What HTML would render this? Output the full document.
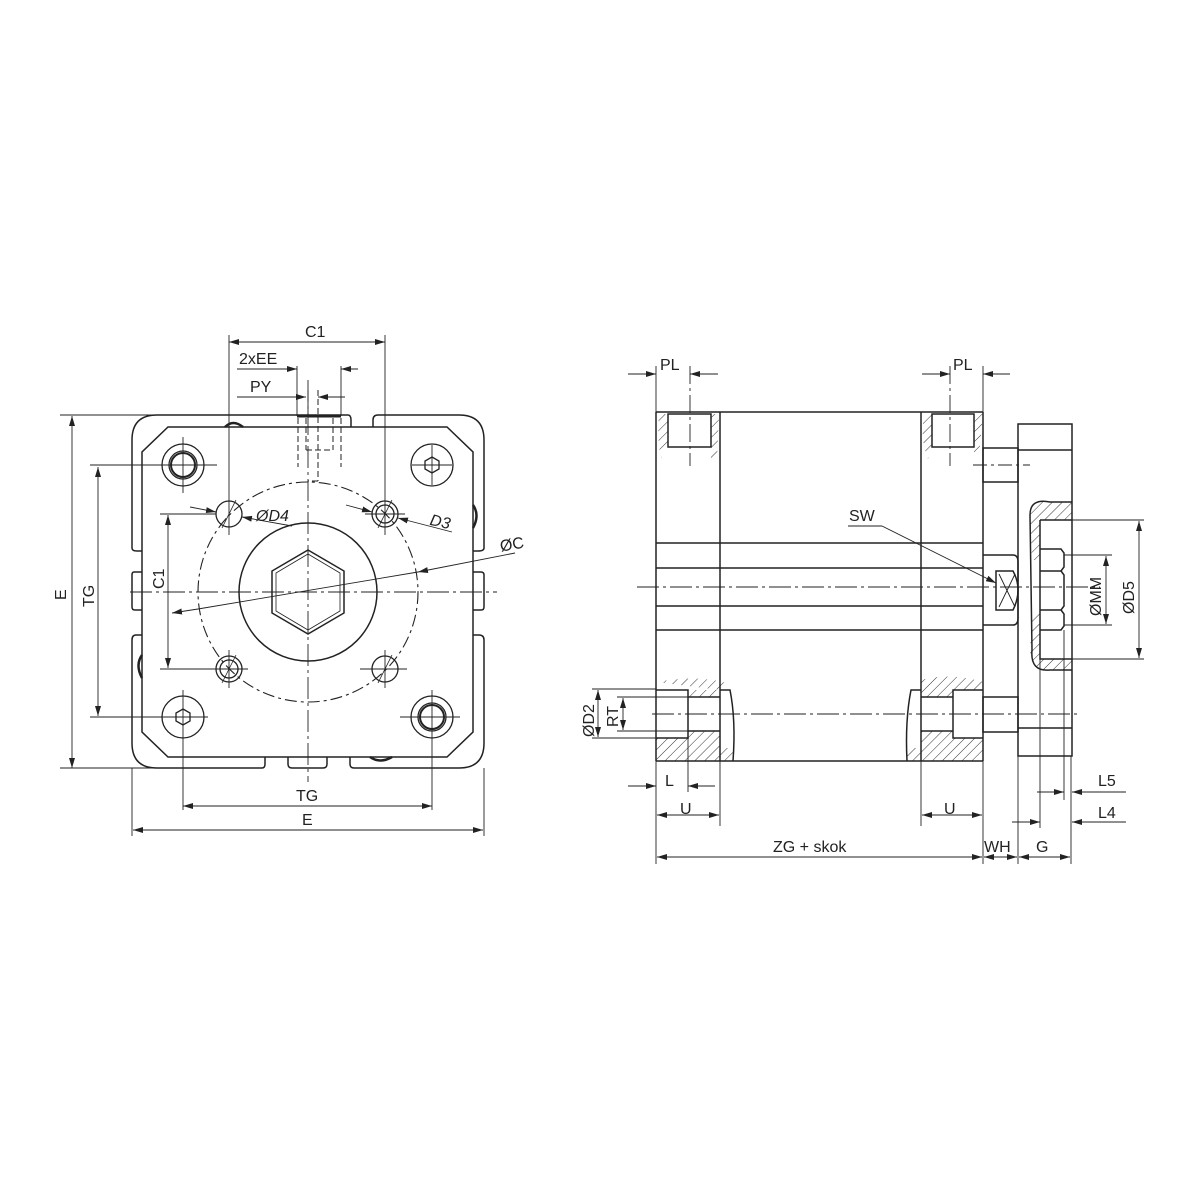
<!DOCTYPE html>
<html><head><meta charset="utf-8"><style>html,body{margin:0;padding:0;background:#fff}svg{display:block}</style></head>
<body>
<svg width="1200" height="1200" viewBox="0 0 1200 1200" xmlns="http://www.w3.org/2000/svg" font-family="Liberation Sans, sans-serif" font-size="16" fill="none" stroke="#222" stroke-width="1.3">
<defs>
<pattern id="h" width="7" height="7" patternUnits="userSpaceOnUse" patternTransform="rotate(45)"><line x1="0" y1="0" x2="0" y2="7" stroke="#333" stroke-width="1"/></pattern>
<marker id="a" viewBox="0 0 10 6" refX="10" refY="3" markerWidth="10" markerHeight="6" orient="auto-start-reverse" markerUnits="userSpaceOnUse"><path d="M0,0 L10,3 L0,6 z" fill="#222" stroke="none"/></marker>
</defs>

<!-- ========== LEFT VIEW ========== -->
<g stroke-width="1.5">
<path d="M132,548 L132,440 Q132,415 157,415 L348,415 Q351,415 351,420 L351,427"/>
<path d="M373,427 L373,420 Q373,415 378,415 L459,415 Q484,415 484,440 L484,548 Q484,551 478,551 L473,551"/>
<path d="M142,551 L137,551 Q132,551 132,548"/>
<path d="M142,572 L134,572 Q132,572 132,575 L132,607 Q132,610 135,610 L142,610"/>
<path d="M473,572 L481,572 Q484,572 484,575 L484,607 Q484,610 481,610 L473,610"/>
<path d="M142,635 L136,635 Q132,635 132,640 L132,743 Q132,768 157,768 L262,768 Q265,768 265,764 L265,757"/>
<path d="M288,757 L288,764 Q288,768 292,768 L323,768 Q327,768 327,764 L327,757"/>
<path d="M350,757 L350,764 Q350,768 354,768 L459,768 Q484,768 484,743 L484,640 Q484,635 479,635 L473,635"/>
<path d="M168,427 L447,427 L473,452 L473,732 L447,757 L168,757 L142,732 L142,452 Z"/>
</g>
<path d="M225,427 Q233,419 243,427" stroke-width="2.5"/>
<path d="M473,505 Q480,515 473,528" stroke-width="2.5"/>
<path d="M142,655 Q135,665 142,678" stroke-width="2.5"/>
<path d="M370,757 Q380,764 392,757" stroke-width="2.5"/>
<line x1="297" y1="416" x2="341" y2="416" stroke-width="3"/>
<g stroke-dasharray="6,3" stroke-width="1">
<line x1="298" y1="418" x2="298" y2="467"/><line x1="341" y1="418" x2="341" y2="467"/>
<line x1="306" y1="418" x2="306" y2="450"/><line x1="333" y1="418" x2="333" y2="450"/>
<line x1="306" y1="450" x2="333" y2="450"/>
<line x1="318" y1="390" x2="318" y2="481"/><line x1="318" y1="481" x2="308" y2="481"/>
</g>
<circle cx="308" cy="592" r="110" stroke-dasharray="12,4,3,4" stroke-width="1.1"/>
<circle cx="308" cy="592" r="69" stroke-width="1.5"/>
<polygon points="308,550 344,571 344,613 308,634 272,613 272,571" stroke-width="1.5"/>
<polygon points="308,554 340,573 340,611 308,630 276,611 276,573" stroke-width="0.8"/>
<g stroke-width="1.3">
<circle cx="183" cy="465" r="21"/><circle cx="183" cy="465" r="14"/><circle cx="183" cy="465" r="12" stroke-width="2"/>
<circle cx="432" cy="465" r="21"/><polygon points="432,457 439,461 439,469 432,473 425,469 425,461"/>
<circle cx="183" cy="717" r="21"/><polygon points="183,709 190,713 190,721 183,725 176,721 176,713"/>
<circle cx="432" cy="717" r="21"/><circle cx="432" cy="717" r="14"/><circle cx="432" cy="717" r="12" stroke-width="2"/>
<circle cx="229" cy="514" r="13"/><line x1="222" y1="528" x2="236" y2="500" stroke-width="0.8"/>
<circle cx="385" cy="514" r="13"/><circle cx="385" cy="514" r="9"/><line x1="378" y1="528" x2="392" y2="500" stroke-width="0.8"/>
<circle cx="229" cy="669" r="13"/><circle cx="229" cy="669" r="9"/><line x1="222" y1="683" x2="236" y2="655" stroke-width="0.8"/>
<circle cx="385" cy="669" r="13"/><line x1="378" y1="683" x2="392" y2="655" stroke-width="0.8"/>
</g>
<g stroke-width="0.9">
<line x1="130" y1="592" x2="497" y2="592" stroke-dasharray="22,4,3,4"/>
<line x1="308" y1="380" x2="308" y2="782" stroke-dasharray="22,4,3,4"/>
<line x1="163" y1="465" x2="217" y2="465"/><line x1="412" y1="465" x2="452" y2="465"/>
<line x1="183" y1="437" x2="183" y2="493"/><line x1="432" y1="445" x2="432" y2="485"/>
<line x1="160" y1="717" x2="208" y2="717"/><line x1="400" y1="717" x2="460" y2="717"/>
<line x1="183" y1="690" x2="183" y2="810"/><line x1="432" y1="690" x2="432" y2="810"/>
<line x1="229" y1="335" x2="229" y2="535"/><line x1="385" y1="335" x2="385" y2="535"/>
<line x1="229" y1="650" x2="229" y2="688"/><line x1="385" y1="650" x2="385" y2="688"/>
<line x1="360" y1="669" x2="407" y2="669"/><line x1="205" y1="669" x2="248" y2="669"/>
<line x1="365" y1="514" x2="405" y2="514"/>
</g>
<g stroke-width="0.9">
<line x1="229" y1="342" x2="385" y2="342" marker-start="url(#a)" marker-end="url(#a)"/>
<line x1="237" y1="369" x2="297" y2="369" marker-end="url(#a)"/><line x1="358" y1="369" x2="341" y2="369" marker-end="url(#a)"/>
<line x1="297" y1="366" x2="297" y2="416"/><line x1="341" y1="366" x2="341" y2="416"/>
<line x1="237" y1="397" x2="306" y2="397" marker-end="url(#a)"/><line x1="345" y1="397" x2="318" y2="397" marker-end="url(#a)"/>
<line x1="308" y1="390" x2="308" y2="416"/>
<line x1="60" y1="415" x2="230" y2="415"/><line x1="60" y1="768" x2="180" y2="768"/>
<line x1="72" y1="416" x2="72" y2="768" marker-start="url(#a)" marker-end="url(#a)"/>
<line x1="90" y1="465" x2="165" y2="465"/><line x1="90" y1="717" x2="160" y2="717"/>
<line x1="98" y1="467" x2="98" y2="716" marker-start="url(#a)" marker-end="url(#a)"/>
<line x1="160" y1="514" x2="216" y2="514"/><line x1="160" y1="669" x2="216" y2="669"/>
<line x1="168" y1="515" x2="168" y2="668" marker-start="url(#a)" marker-end="url(#a)"/>
<line x1="183" y1="806" x2="432" y2="806" marker-start="url(#a)" marker-end="url(#a)"/>
<line x1="132" y1="768" x2="132" y2="836"/><line x1="484" y1="768" x2="484" y2="836"/>
<line x1="133" y1="830" x2="483" y2="830" marker-start="url(#a)" marker-end="url(#a)"/>
<line x1="172" y1="613" x2="198" y2="609" marker-start="url(#a)" /><line x1="198" y1="609" x2="418" y2="572"/>
<line x1="418" y1="572" x2="515" y2="553" marker-start="url(#a)"/>
<line x1="190" y1="507" x2="216" y2="512" marker-end="url(#a)"/>
<line x1="242" y1="517" x2="292" y2="526" marker-start="url(#a)"/>
<line x1="346" y1="505" x2="372" y2="512" marker-end="url(#a)"/>
<line x1="398" y1="518" x2="452" y2="532" marker-start="url(#a)"/>
</g>
<g fill="#222" stroke="none">
<text x="305" y="337">C1</text>
<text x="239" y="364">2xEE</text>
<text x="250" y="392">PY</text>
<text x="256" y="521" font-style="italic">ØD4</text>
<text x="430" y="527" font-style="italic" transform="rotate(12 440 522)">D3</text>
<text x="500" y="550" transform="rotate(-10 510 545)">ØC</text>
<text x="296" y="801">TG</text>
<text x="302" y="825">E</text>
<text transform="translate(66,600) rotate(-90)">E</text>
<text transform="translate(94,607) rotate(-90)">TG</text>
<text transform="translate(164,589) rotate(-90)">C1</text>
</g>

<!-- ========== RIGHT VIEW ========== -->
<g stroke="none" fill="url(#h)">
<path d="M659,414 L668,414 L668,447 L661,458 Q657,440 659,414 Z"/>
<path d="M711,414 L719,414 L717,458 L711,458 Z"/>
<path d="M924,414 L932,414 L932,447 L928,459 Q920,440 924,414 Z"/>
<path d="M974,414 L983,414 L979,455 L974,456 Z"/>
<path d="M656,682 Q700,674 730,684 L720,690 L688,690 L688,697 L720,697 L720,690 Z"/>
<path d="M656,738 L688,738 L688,731 L720,731 L720,761 L656,761 Z"/>
<path d="M720,748 L733,748 L733,761 L720,761 Z"/>
<path d="M921,680 Q950,672 983,682 L983,690 L953,690 L953,697 L921,697 Z"/>
<path d="M921,731 L953,731 L953,738 L983,738 L983,761 L921,761 Z"/>
<path d="M908,748 L921,748 L921,761 L907,761 Z"/>
<path d="M1030,515 Q1030,498 1050,502 L1072,502 L1072,520 L1040,520 L1040,560 L1032,560 Z"/>
<path d="M1032,612 L1040,612 L1040,659 L1072,659 L1072,670 L1050,670 Q1030,672 1030,650 Z"/>
</g>
<g stroke-width="1.5">
<line x1="656" y1="412" x2="983" y2="412"/><line x1="656" y1="761" x2="983" y2="761"/>
<line x1="656" y1="412" x2="656" y2="761"/><line x1="720" y1="412" x2="720" y2="761"/>
<line x1="921" y1="412" x2="921" y2="761"/><line x1="983" y1="412" x2="983" y2="761"/>
<line x1="656" y1="543" x2="983" y2="543"/><line x1="656" y1="568" x2="983" y2="568"/>
<line x1="656" y1="606" x2="983" y2="606"/><line x1="656" y1="630" x2="983" y2="630"/>
<rect x="668" y="414" width="43" height="33"/><rect x="932" y="414" width="42" height="33"/>
<path d="M656,690 L688,690 L688,738 L656,738"/><path d="M688,697 L720,697 M688,731 L720,731"/>
<path d="M720,690 L730,690 Q736,720 733,761"/>
<path d="M983,690 L953,690 L953,738 L983,738"/><path d="M921,697 L953,697 M921,731 L953,731"/>
<path d="M921,690 L911,690 Q905,720 907,761"/>
<rect x="983" y="448" width="35" height="34"/><rect x="983" y="697" width="35" height="35"/>
<path d="M983,555 L1013,555 Q1018,555 1018,562 L1018,618 Q1018,625 1013,625 L983,625"/>
<path d="M996,571 L1013,571 Q1018,580 1018,590 Q1018,600 1013,610 L996,610 Z"/>
<rect x="1018" y="424" width="54" height="332"/>
<line x1="1018" y1="450" x2="1072" y2="450"/><line x1="1018" y1="728" x2="1072" y2="728"/>
<path d="M1040,520 L1072,520 M1040,520 L1040,659 L1072,659"/>
<path d="M1040,549 L1061,549 L1064,553 L1064,567 L1061,571 L1040,571 M1061,571 L1064,575 L1064,606 L1061,610 L1040,610 M1061,610 L1064,614 L1064,626 L1061,630 L1040,630"/>
<path d="M1030,515 Q1030,498 1050,502 L1072,502"/><path d="M1030,515 L1032,650 Q1030,672 1050,670 L1072,670"/>
</g>
<g stroke-width="0.9">
<line x1="999" y1="574" x2="1015" y2="607"/><line x1="1015" y1="574" x2="999" y2="607"/>
<line x1="1064" y1="630" x2="1064" y2="800"/><line x1="1040" y1="659" x2="1040" y2="828"/>
<line x1="1018" y1="756" x2="1018" y2="864"/><line x1="1071" y1="756" x2="1071" y2="864"/>
<line x1="983" y1="761" x2="983" y2="864"/>
<line x1="637" y1="587" x2="1100" y2="587" stroke-dasharray="22,4,3,4"/>
<line x1="652" y1="714" x2="1080" y2="714" stroke-dasharray="22,4,3,4"/>
<line x1="973" y1="465" x2="1030" y2="465" stroke-dasharray="14,4,3,4"/>
<line x1="690" y1="366" x2="690" y2="466" stroke-dasharray="18,4,3,4"/>
<line x1="950" y1="366" x2="950" y2="466" stroke-dasharray="18,4,3,4"/>
<line x1="656" y1="366" x2="656" y2="412"/><line x1="983" y1="366" x2="983" y2="412"/>
<line x1="628" y1="374" x2="656" y2="374" marker-end="url(#a)"/><line x1="718" y1="374" x2="690" y2="374" marker-end="url(#a)"/>
<line x1="922" y1="374" x2="950" y2="374" marker-end="url(#a)"/><line x1="1010" y1="374" x2="983" y2="374" marker-end="url(#a)"/>
<line x1="656" y1="761" x2="656" y2="864"/><line x1="720" y1="761" x2="720" y2="826"/><line x1="921" y1="761" x2="921" y2="826"/>
<line x1="688" y1="738" x2="688" y2="792"/>
<line x1="628" y1="786" x2="656" y2="786" marker-end="url(#a)"/><line x1="715" y1="786" x2="688" y2="786" marker-end="url(#a)"/>
<line x1="657" y1="815" x2="719" y2="815" marker-start="url(#a)" marker-end="url(#a)"/>
<line x1="922" y1="815" x2="982" y2="815" marker-start="url(#a)" marker-end="url(#a)"/>
<line x1="657" y1="857" x2="982" y2="857" marker-start="url(#a)" marker-end="url(#a)"/>
<line x1="984" y1="857" x2="1017" y2="857" marker-start="url(#a)" marker-end="url(#a)"/>
<line x1="1019" y1="857" x2="1070" y2="857" marker-start="url(#a)" marker-end="url(#a)"/>
<line x1="1037" y1="792" x2="1064" y2="792" marker-end="url(#a)"/><line x1="1126" y1="792" x2="1072" y2="792" marker-end="url(#a)"/>
<line x1="1012" y1="822" x2="1040" y2="822" marker-end="url(#a)"/><line x1="1126" y1="822" x2="1072" y2="822" marker-end="url(#a)"/>
<line x1="1064" y1="555" x2="1112" y2="555"/><line x1="1064" y1="625" x2="1112" y2="625"/>
<line x1="1106" y1="556" x2="1106" y2="624" marker-start="url(#a)" marker-end="url(#a)"/>
<line x1="1072" y1="520" x2="1144" y2="520"/><line x1="1072" y1="659" x2="1144" y2="659"/>
<line x1="1139" y1="521" x2="1139" y2="658" marker-start="url(#a)" marker-end="url(#a)"/>
<line x1="592" y1="689" x2="656" y2="689"/><line x1="592" y1="738" x2="656" y2="738"/>
<line x1="598" y1="690" x2="598" y2="737" marker-start="url(#a)" marker-end="url(#a)"/>
<line x1="617" y1="697" x2="688" y2="697"/><line x1="617" y1="731" x2="688" y2="731"/>
<line x1="623" y1="698" x2="623" y2="730" marker-start="url(#a)" marker-end="url(#a)"/>
<line x1="848" y1="526" x2="882" y2="526"/><line x1="882" y1="526" x2="996" y2="583" marker-end="url(#a)"/>
</g>
<g fill="#222" stroke="none">
<text x="660" y="370">PL</text><text x="953" y="370">PL</text>
<text x="665" y="786">L</text><text x="680" y="814">U</text><text x="944" y="814">U</text>
<text x="773" y="852">ZG + skok</text><text x="984" y="852">WH</text><text x="1036" y="852">G</text>
<text x="1098" y="786">L5</text><text x="1098" y="818">L4</text>
<text x="849" y="521">SW</text>
<text transform="translate(1101,616) rotate(-90)">ØMM</text>
<text transform="translate(1134,614) rotate(-90)">ØD5</text>
<text transform="translate(594,737) rotate(-90)">ØD2</text>
<text transform="translate(618,727) rotate(-90)">RT</text>
</g>
</svg>
</body></html>
